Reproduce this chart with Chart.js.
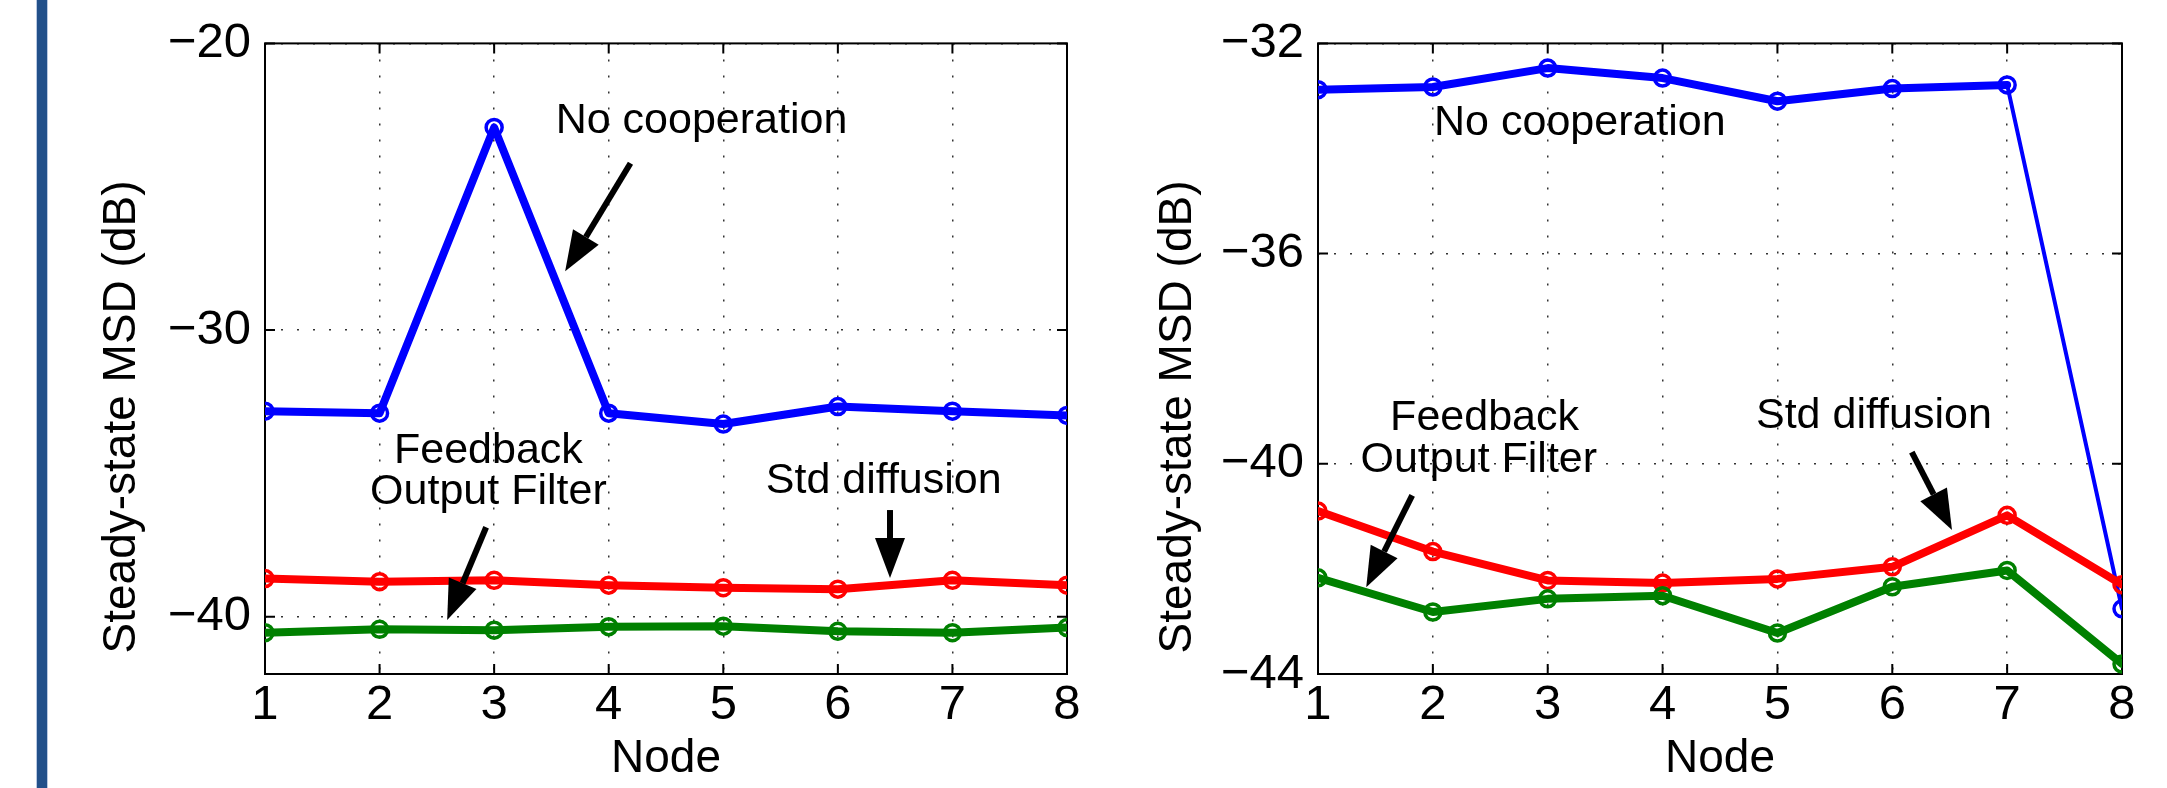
<!DOCTYPE html>
<html>
<head>
<meta charset="utf-8">
<script src="https://cdn.jsdelivr.net/npm/chart.js@4.4.1/dist/chart.umd.min.js"></script>
<style>
    html, body { margin: 0; padding: 0; background: #fff; }
    body { width: 2167px; height: 788px; position: relative; overflow: hidden; }
    .bar { position: absolute; left: 37px; top: 0; width: 10px; height: 788px; background: #22508a; box-shadow: 0 0 0 1px #b9c9e2; }
    .box { position: absolute; top: 0; height: 788px; }
    #left-box { left: 0; width: 1090px; }
    #right-box { left: 1090px; width: 1077px; }
</style>
</head>
<body>
<div class="bar"></div>
<div class="box" id="left-box"><canvas id="left-chart"></canvas></div>
<div class="box" id="right-box"><canvas id="right-chart"></canvas></div>
<script>
// x axis: node index
const nodes = [1, 2, 3, 4, 5, 6, 7, 8];

// left panel (dB)
const leftNoCoop   = [-32.83, -32.90, -22.93, -32.90, -33.28, -32.67, -32.83, -32.98];
const leftStdDiff  = [-38.67, -38.78, -38.73, -38.90, -38.99, -39.04, -38.73, -38.90];
const leftFeedback = [-40.56, -40.44, -40.47, -40.35, -40.33, -40.51, -40.56, -40.38];
const leftTicks = [-40, -30, -20];

// right panel (dB)
const rightNoCoop   = [-32.88, -32.83, -32.47, -32.66, -33.10, -32.86, -32.79, -42.76];
const rightStdDiff  = [-40.90, -41.67, -42.22, -42.27, -42.19, -41.96, -40.98, -42.30];
const rightFeedback = [-42.17, -42.82, -42.57, -42.51, -43.22, -42.34, -42.03, -43.81];
const rightTicks = [-44, -40, -36, -32];

const yTitle = 'Steady-state MSD (dB)';
const FONT = "'Liberation Sans', Arial, Helvetica, sans-serif";

// text notes and arrows, placed in data coordinates
const leftNotes = [
    { text: 'No cooperation', x: 4.81, y: -22.72 },
    { text: 'Feedback', x: 2.95, y: -34.23 },
    { text: 'Output Filter', x: 2.95, y: -35.66 },
    { text: 'Std diffusion', x: 6.40, y: -35.27 },
];
const leftArrows = [
    { from: [4.19, -24.18], to: [3.62, -27.95] },
    { from: [2.93, -36.88], to: [2.59, -40.12] },
    { from: [6.455, -36.28], to: [6.455, -38.65] },
];
const rightNotes = [
    { text: 'No cooperation', x: 3.28, y: -33.52 },
    { text: 'Feedback', x: 2.45, y: -39.13 },
    { text: 'Output Filter', x: 2.40, y: -39.93 },
    { text: 'Std diffusion', x: 5.84, y: -39.09 },
];
const rightArrows = [
    { from: [1.82, -40.60], to: [1.42, -42.35] },
    { from: [6.17, -39.78], to: [6.52, -41.26] },
];

function series(values, color, thinSeg) {
    return {
        data: nodes.map((n, i) => ({ x: n, y: values[i] })),
        borderColor: color,
        borderWidth: 8,
        borderJoinStyle: 'round',
        borderCapStyle: 'round',
        pointRadius: 8,
        pointBorderWidth: 3.5,
        pointBorderColor: color,
        pointBackgroundColor: 'rgba(0,0,0,0)',
        tension: 0,
        segment: thinSeg == null ? {} : {
            borderWidth: ctx => (ctx.p0DataIndex === thinSeg ? 4 : 8),
        },
    };
}

const framePlugin = {
    id: 'frame',
    beforeDatasetsDraw(chart) {
        const { ctx, chartArea: a, scales } = chart;
        ctx.save();
        ctx.strokeStyle = '#000';
        ctx.lineWidth = 2;
        ctx.strokeRect(a.left, a.top, a.right - a.left, a.bottom - a.top);
        const len = 10;
        ctx.beginPath();
        scales.x.ticks.forEach(t => {
            const px = scales.x.getPixelForValue(t.value);
            ctx.moveTo(px, a.bottom); ctx.lineTo(px, a.bottom - len);
            ctx.moveTo(px, a.top); ctx.lineTo(px, a.top + len);
        });
        scales.y.ticks.forEach(t => {
            const py = scales.y.getPixelForValue(t.value);
            ctx.moveTo(a.left, py); ctx.lineTo(a.left + len, py);
            ctx.moveTo(a.right, py); ctx.lineTo(a.right - len, py);
        });
        ctx.stroke();
        ctx.restore();
    },
    afterDraw(chart) {
        const { ctx, scales } = chart;
        const o = chart.options.plugins.frame;
        ctx.save();
        ctx.fillStyle = '#000';
        ctx.strokeStyle = '#000';
        ctx.textAlign = 'center';
        ctx.textBaseline = 'middle';

        // y axis title, sits a little below the middle of the axis as in the original
        ctx.save();
        ctx.font = '46px ' + FONT;
        ctx.translate(o.titleX, o.titleY);
        ctx.rotate(-Math.PI / 2);
        ctx.fillText(yTitle, 0, 0);
        ctx.restore();

        ctx.font = '43px ' + FONT;
        o.notes.forEach(n => {
            ctx.fillText(n.text, scales.x.getPixelForValue(n.x), scales.y.getPixelForValue(n.y));
        });
        o.arrows.forEach(ar => {
            const x0 = scales.x.getPixelForValue(ar.from[0]);
            const y0 = scales.y.getPixelForValue(ar.from[1]);
            const x1 = scales.x.getPixelForValue(ar.to[0]);
            const y1 = scales.y.getPixelForValue(ar.to[1]);
            const ang = Math.atan2(y1 - y0, x1 - x0);
            const hl = 40, hw = 15;
            const bx = x1 - hl * Math.cos(ang), by = y1 - hl * Math.sin(ang);
            ctx.lineWidth = 6;
            ctx.beginPath();
            ctx.moveTo(x0, y0);
            ctx.lineTo(bx, by);
            ctx.stroke();
            ctx.beginPath();
            ctx.moveTo(x1, y1);
            ctx.lineTo(bx + hw * Math.sin(ang), by - hw * Math.cos(ang));
            ctx.lineTo(bx - hw * Math.sin(ang), by + hw * Math.cos(ang));
            ctx.closePath();
            ctx.fill();
        });
        ctx.restore();
    },
};

function makeChart(id, cfg) {
    const tickFont = { family: FONT, size: 49 };
    const titleFont = { family: FONT, size: 46 };
    const gridOpts = { color: '#333', lineWidth: 1.5, drawTicks: false };
    return new Chart(document.getElementById(id), {
        type: 'line',
        data: { datasets: cfg.datasets },
        options: {
            responsive: true,
            maintainAspectRatio: false,
            animation: false,
            layout: { padding: { left: 0, right: cfg.padRight, top: 43, bottom: 0 } },
            plugins: {
                legend: { display: false },
                tooltip: { enabled: false },
                frame: { notes: cfg.notes, arrows: cfg.arrows, titleX: cfg.titleX, titleY: 417 },
            },
            scales: {
                x: {
                    type: 'linear',
                    min: 1,
                    max: 8,
                    afterBuildTicks: s => { s.ticks = nodes.map(v => ({ value: v })); },
                    afterFit: s => { s.height = 114; },
                    ticks: { font: tickFont, color: '#000', padding: 2, autoSkip: false, maxRotation: 0 },
                    grid: gridOpts,
                    border: { display: false, dash: [2, 14] },
                    title: { display: true, text: 'Node', font: titleFont, color: '#000', padding: { top: 0, bottom: 1 } },
                },
                y: {
                    type: 'linear',
                    min: cfg.yMin,
                    max: cfg.yMax,
                    afterBuildTicks: s => { s.ticks = cfg.yTicks.map(v => ({ value: v })); },
                    afterFit: s => { s.width = cfg.yWidth; },
                    ticks: {
                        font: tickFont,
                        color: '#000',
                        padding: 14,
                        callback: v => String(v).replace('-', '\u2212'),
                    },
                    grid: gridOpts,
                    border: { display: false, dash: [2, 14] },
                    title: { display: false },
                },
            },
        },
        plugins: [framePlugin],
    });
}

document.addEventListener('DOMContentLoaded', () => {
    makeChart('left-chart', {
        datasets: [
            series(leftFeedback, '#008000'),
            series(leftStdDiff, '#ff0000'),
            series(leftNoCoop, '#0000ff'),
        ],
        yMin: -42, yMax: -20, yTicks: leftTicks,
        yWidth: 265, padRight: 23, titleX: 122,
        notes: leftNotes, arrows: leftArrows,
    });

    makeChart('right-chart', {
        datasets: [
            series(rightFeedback, '#008000'),
            series(rightStdDiff, '#ff0000'),
            series(rightNoCoop, '#0000ff', 6),
        ],
        yMin: -44, yMax: -32, yTicks: rightTicks,
        yWidth: 228, padRight: 45, titleX: 88,
        notes: rightNotes, arrows: rightArrows,
    });
});
</script>
</body>
</html>
